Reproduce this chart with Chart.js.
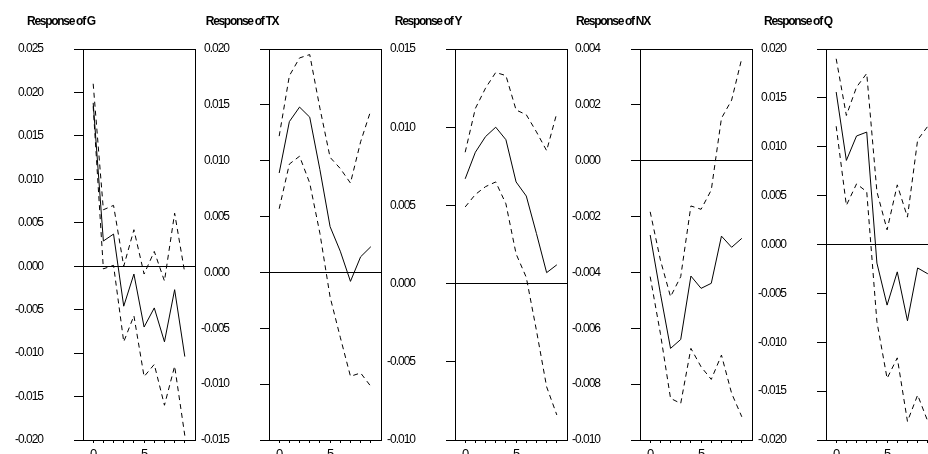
<!DOCTYPE html>
<html>
<head>
<meta charset="utf-8">
<script src="https://cdn.jsdelivr.net/npm/chart.js@4.4.1/dist/chart.umd.min.js"></script>
<style>
  body { margin: 0; background: #fff; overflow: hidden; }
  #wrap { position: relative; width: 928px; height: 454px; overflow: hidden; }
  #wrap canvas { position: absolute; top: 0; }
</style>
</head>
<body>
<div id="wrap"></div>
<script>
// Impulse responses, 10 periods, with +/- 2 S.E. bands
var periods = [0, 1, 2, 3, 4, 5, 6, 7, 8, 9];

var gResp  = [0.0188, 0.0029, 0.0037, -0.0046, -0.0009, -0.0070, -0.0048, -0.0087, -0.0027, -0.0104];
var gUpper = [0.0210, 0.0065, 0.0070, 0.0000, 0.0042, -0.0009, 0.0017, -0.0017, 0.0061, -0.0008];
var gLower = [0.0184, -0.0003, 0.0001, -0.0087, -0.0057, -0.0127, -0.0113, -0.0160, -0.0115, -0.0195];

var txResp  = [0.0089, 0.0135, 0.0148, 0.0139, 0.0092, 0.0041, 0.0019, -0.0008, 0.0014, 0.0023];
var txUpper = [0.0122, 0.0176, 0.0192, 0.0195, 0.0147, 0.0103, 0.0093, 0.0080, 0.0117, 0.0145];
var txLower = [0.0057, 0.0097, 0.0104, 0.0080, 0.0035, -0.0022, -0.0058, -0.0093, -0.0090, -0.0102];

var yResp  = [0.0067, 0.0084, 0.0094, 0.0100, 0.0092, 0.0065, 0.0056, 0.0032, 0.0007, 0.0012];
var yUpper = [0.0084, 0.0112, 0.0125, 0.0135, 0.0133, 0.0111, 0.0108, 0.0097, 0.0085, 0.0109];
var yLower = [0.0049, 0.0057, 0.0062, 0.0065, 0.0051, 0.0019, 0.0004, -0.0030, -0.0066, -0.0084];

var nxResp  = [-0.00266, -0.00475, -0.00672, -0.00640, -0.00413, -0.00457, -0.00439, -0.00270, -0.00310, -0.00278];
var nxUpper = [-0.00183, -0.00355, -0.00487, -0.00415, -0.00162, -0.00174, -0.00105, 0.00152, 0.00217, 0.00367];
var nxLower = [-0.00415, -0.00618, -0.00851, -0.00869, -0.00672, -0.00738, -0.00783, -0.00696, -0.00833, -0.00917];

var qResp  = [0.0156, 0.0086, 0.0111, 0.0115, -0.0019, -0.0062, -0.0028, -0.0078, -0.0024, -0.0030];
var qUpper = [0.0190, 0.0132, 0.0161, 0.0175, 0.0054, 0.0015, 0.0061, 0.0028, 0.0107, 0.0121];
var qLower = [0.0121, 0.0040, 0.0062, 0.0054, -0.0079, -0.0137, -0.0116, -0.0181, -0.0154, -0.0181];

var titles = ['Response of G', 'Response of TX', 'Response of Y', 'Response of NX', 'Response of Q'];
var yMin  = [-0.020, -0.015, -0.010, -0.010, -0.020];
var yMax  = [0.025, 0.020, 0.015, 0.004, 0.020];
var yStep = [0.005, 0.005, 0.005, 0.002, 0.005];

var responses = [gResp, txResp, yResp, nxResp, qResp];
var uppers = [gUpper, txUpper, yUpper, nxUpper, qUpper];
var lowers = [gLower, txLower, yLower, nxLower, qLower];

// left edge of each canvas on the page, and where each heading is centred
// relative to the plot's left border
var canvasLeft = [0, 186, 372, 557, 743];
var titleShift = [-22, -27, -27, -27, -28];

var FONT = '"Liberation Sans", Arial, sans-serif';

function toPoints(values) {
    return periods.map(function (p, i) { return { x: p, y: values[i] }; });
}

// frame around the plot area and the panel heading
var panelBox = {
    id: 'panelBox',
    beforeDraw: function (chart) {
        chart.ctx.letterSpacing = '-1px';
    },
    afterDraw: function (chart, args, opts) {
        var a = chart.chartArea, ctx = chart.ctx;
        ctx.save();
        ctx.strokeStyle = '#000';
        ctx.lineWidth = 1;
        ctx.strokeRect(Math.round(a.left) + 0.5, Math.round(a.top) + 0.5,
            Math.round(a.right - a.left), Math.round(a.bottom - a.top));
        ctx.font = 'bold 12px ' + FONT;
        ctx.letterSpacing = '-1.3px';
        ctx.fillStyle = '#000';
        ctx.textAlign = 'center';
        ctx.textBaseline = 'middle';
        ctx.fillText(opts.title, a.left + opts.shift, 22);
        ctx.restore();
    }
};

var wrap = document.getElementById('wrap');

for (var k = 0; k < titles.length; k++) {
    var canvas = document.createElement('canvas');
    canvas.width = 196;
    canvas.height = 454;
    canvas.style.left = canvasLeft[k] + 'px';
    wrap.appendChild(canvas);

    new Chart(canvas.getContext('2d'), {
        type: 'line',
        data: {
            datasets: [{
                data: toPoints(responses[k]),
                borderColor: '#000',
                borderWidth: 1,
                pointRadius: 0,
                tension: 0
            }, {
                data: toPoints(uppers[k]),
                borderColor: '#000',
                borderWidth: 1,
                borderDash: [5, 4],
                pointRadius: 0,
                tension: 0
            }, {
                data: toPoints(lowers[k]),
                borderColor: '#000',
                borderWidth: 1,
                borderDash: [5, 4],
                pointRadius: 0,
                tension: 0
            }]
        },
        options: {
            responsive: false,
            animation: false,
            events: [],
            layout: { padding: { left: 0, right: 1, top: 49, bottom: 0 } },
            plugins: {
                legend: { display: false },
                tooltip: { enabled: false },
                panelBox: { title: titles[k], shift: titleShift[k] }
            },
            scales: {
                x: {
                    type: 'linear',
                    min: -1,
                    max: 10,
                    afterFit: function (scale) {
                        scale.height = 14;
                        scale.paddingLeft = 0;
                        scale.paddingRight = 0;
                    },
                    border: { display: false },
                    grid: {
                        drawOnChartArea: false,
                        tickLength: 3,
                        tickColor: function (c) {
                            return c.tick && c.tick.value >= 0 && c.tick.value <= 9 ? '#000' : 'rgba(0,0,0,0)';
                        }
                    },
                    ticks: {
                        stepSize: 1,
                        autoSkip: false,
                        maxRotation: 0,
                        padding: 4,
                        color: '#000',
                        font: { family: FONT, size: 13 },
                        callback: function (v) { return (v === 0 || v === 5) ? String(v) : ''; }
                    }
                },
                y: {
                    min: yMin[k],
                    max: yMax[k],
                    afterFit: function (scale) {
                        scale.width = 83;
                        scale.paddingTop = 0;
                        scale.paddingBottom = 0;
                    },
                    border: { display: false },
                    grid: {
                        tickLength: 9,
                        tickColor: '#000',
                        color: function (c) {
                            return c.tick && Math.abs(c.tick.value) < 1e-10 ? '#000' : 'rgba(0,0,0,0)';
                        }
                    },
                    ticks: {
                        stepSize: yStep[k],
                        padding: 31,
                        color: '#000',
                        font: { family: FONT, size: 12 },
                        callback: function (v) { return Math.abs(v) < 1e-10 ? '0.000' : v.toFixed(3); }
                    }
                }
            }
        },
        plugins: [panelBox]
    });
}
</script>
</body>
</html>
